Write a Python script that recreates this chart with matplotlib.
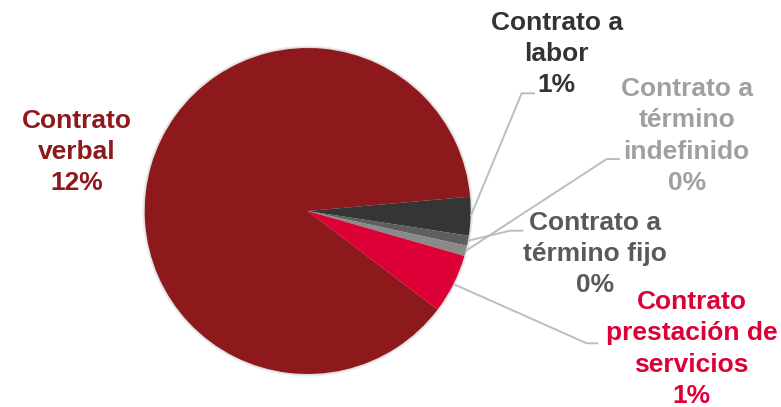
import matplotlib.pyplot as plt
import numpy as np

# data: share of each contract type (percent of total)
labels = ['Contrato\nverbal', 'Contrato a\nlabor', 'Contrato a\ntérmino fijo',
          'Contrato a\ntérmino\nindefinido', 'Contrato\nprestación de\nservicios']
values = [12.0, 0.52, 0.135, 0.14, 0.80]

wedge_colors = ['#8E191C', '#353535', '#5E5E5E', '#8A8A8A', '#DC0036']
text_colors = ['#8E191C', '#333333', '#595959', '#A0A0A0', '#DC0036']

# pixel geometry of the pie in the 781x407 figure
W, H = 781, 407
cx, cy, R = 307.7, 211.0, 163.0


def px(x, y):
    return (x - cx) / R, (cy - y) / R


# label centres and leader-line elbows (pixels)
label_pos = [(77, 152), (556.7, 54), (595, 254), (686.7, 136), (691.7, 349)]
elbows = [None, ((521.7, 93.3), (535, 93.3)), ((510, 230.7), (523.3, 230.7)),
          ((606.7, 159), (620, 159)), ((586.7, 343.3), (598.3, 343.3))]

plt.rcParams['font.family'] = ['Liberation Sans', 'DejaVu Sans']

fig = plt.figure(figsize=(W / 100, H / 100), dpi=100)
ax = fig.add_axes([0, 0, 1, 1])

# soft shadow around the pie
ax.add_patch(plt.Circle((0, 0), 1.014, color='#ececec', zorder=0, lw=0))
ax.add_patch(plt.Circle((0, 0), 1.006, color='#dcdcdc', zorder=0, lw=0))

wedges, _ = ax.pie(values, colors=wedge_colors, startangle=-37.2, counterclock=False,
                   radius=1, center=(0, 0), wedgeprops=dict(linewidth=0))

for i, w in enumerate(wedges):
    txt = labels[i] + '\n' + '{:.0f}%'.format(values[i])
    lx, ly = px(*label_pos[i])
    ax.text(lx, ly, txt, ha='center', va='center', fontsize=19, fontweight='bold',
            color=text_colors[i], linespacing=1.38)
    if elbows[i] is not None:
        ang = np.deg2rad((w.theta1 + w.theta2) / 2)
        x0, y0 = np.cos(ang) * 1.0, np.sin(ang) * 1.0
        (x1, y1), (x2, y2) = px(*elbows[i][0]), px(*elbows[i][1])
        ax.plot([x0, x1, x2], [y0, y1, y2], color='#BDBDBD', lw=1.4, zorder=5,
                solid_capstyle='butt')

ax.set_xlim(-cx / R, (W - cx) / R)
ax.set_ylim(-(H - cy) / R, cy / R)
ax.set_aspect('equal')
ax.axis('off')

fig.savefig('out.png', dpi=100)
